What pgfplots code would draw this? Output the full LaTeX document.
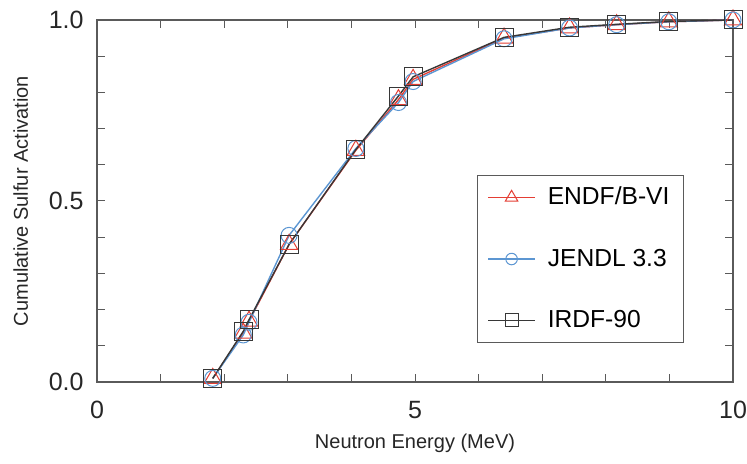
\documentclass[border=0pt]{standalone}
\usepackage{fontspec}
\setmainfont{Liberation Sans}
\usepackage{pgfplots}
\pgfplotsset{compat=1.18}

\definecolor{endfred}{RGB}{228,62,52}
\definecolor{jendlblue}{RGB}{92,150,210}
\definecolor{irdfgray}{RGB}{55,55,55}
\definecolor{axisgray}{RGB}{90,90,90}

\begin{document}
\begin{tikzpicture}
  \begin{axis}[
      name=ax,
      width=318pt, height=181pt, scale only axis,
      xmin=0, xmax=10, ymin=0, ymax=1,
      xtick={0,5,10}, minor x tick num=4,
      ytick={0,0.5,1}, minor y tick num=4,
      yticklabel style={/pgf/number format/fixed, /pgf/number format/fixed zerofill,
          /pgf/number format/precision=1, xshift=-6.5pt},
      /pgf/number format/assume math mode=true,
      tick align=inside,
      major tick length=4pt, minor tick length=4pt,
      axis line style={axisgray, line width=0.6pt},
      every tick/.style={axisgray, line width=0.5pt},
      every minor tick/.style={axisgray, line width=0.5pt},
      tick label style={font=\fontsize{12.5}{14}\selectfont, text=black!85, inner sep=0pt},
      xticklabel style={yshift=-9.5pt},
      xlabel={Neutron Energy (MeV)},
      ylabel={Cumulative Sulfur Activation},
      label style={font=\fontsize{10}{12}\selectfont, text=black!85},
      xlabel style={at={(axis description cs:0.5,0)}, anchor=base, yshift=-33.5pt},
      ylabel style={at={(axis description cs:0,0.5)}, anchor=base, yshift=34.5pt,
          inner sep=0pt},
      clip=false,
      legend style={
          at={(0.923,0.108)}, anchor=south east,
          draw=axisgray, line width=0.6pt,
          font=\fontsize{12.3}{14}\selectfont,
          inner xsep=5pt, inner ysep=4pt,
          row sep=16.5pt,
          /tikz/every odd column/.append style={column sep=4pt},
        },
      legend cell align=left,
      legend image code/.code={
          \draw[mark repeat=2, mark phase=2,
            mark options={solid, line width=0.5pt, scale=0.72}]
          plot coordinates {(0pt,0pt) (11.75pt,0pt) (23.5pt,0pt)};
        },
    ]
    % ENDF/B-VI
    \addplot[endfred, line width=0.7pt, mark=triangle, mark size=5pt,
      mark options={solid, line width=0.5pt}] coordinates {
        (1.82,0.010) (2.30,0.135) (2.39,0.168) (3.02,0.380) (4.07,0.640)
        (4.74,0.780) (4.97,0.836) (6.40,0.950) (7.43,0.978) (8.17,0.987)
        (8.99,0.995) (10,1.0)
      };
    \addlegendentry{ENDF/B-VI}
    % JENDL 3.3
    \addplot[jendlblue, line width=0.7pt, mark=o, mark size=4pt,
      mark options={solid, line width=0.5pt}] coordinates {
        (1.82,0.010) (2.30,0.130) (2.39,0.165) (3.02,0.405) (4.07,0.645)
        (4.74,0.772) (4.97,0.830) (6.40,0.948) (7.43,0.978) (8.17,0.987)
        (8.99,0.995) (10,1.0)
      };
    \addlegendentry{JENDL 3.3}
    % IRDF-90
    \addplot[irdfgray, line width=0.7pt, mark=square, mark size=4.5pt,
      mark options={solid, line width=0.5pt}] coordinates {
        (1.82,0.010) (2.30,0.140) (2.39,0.172) (3.02,0.380) (4.07,0.642)
        (4.74,0.790) (4.97,0.843) (6.40,0.952) (7.43,0.980) (8.17,0.988)
        (8.99,0.996) (10,1.0)
      };
    \addlegendentry{IRDF-90}
  \end{axis}
  % margins round the axis, as in the reference
  \path (ax.north east) ++(7pt,10pt);
  \path (ax.south west) ++(-48.5pt,-41pt);
\end{tikzpicture}
\end{document}
